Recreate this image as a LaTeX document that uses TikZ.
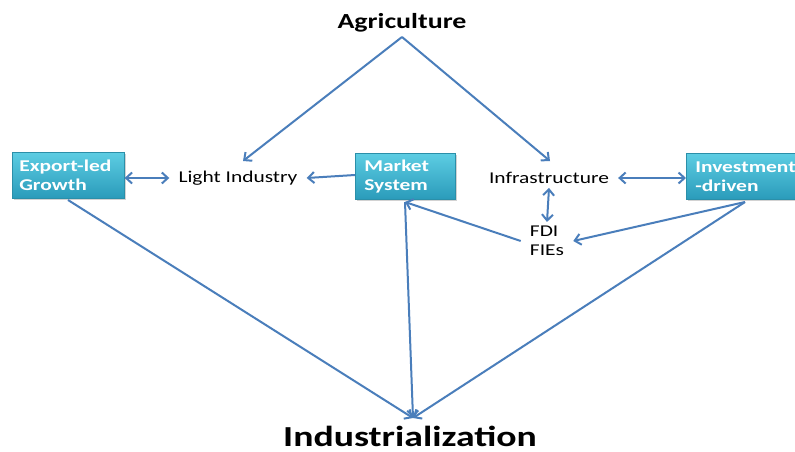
\documentclass[tikz,border=0pt]{standalone}
\usepackage{fontspec}
\setmainfont{Carlito}[FakeStretch=1.3]
\usetikzlibrary{arrows.meta,shadows}
\definecolor{linec}{HTML}{4A7EBB}
\definecolor{boxtop}{HTML}{5DCDE3}
\definecolor{boxbot}{HTML}{2A9BBA}
\definecolor{boxdraw}{HTML}{2B8FA9}
\tikzset{
  conn/.style={draw=linec, line width=2pt, -{Straight Barb[length=6pt,width=11pt,line width=2pt]}},
  dconn/.style={draw=linec, line width=2pt, {Straight Barb[length=6pt,width=11pt,line width=2pt]}-{Straight Barb[length=6pt,width=11pt,line width=2pt]}},
  cbox/.style={draw=boxdraw, line width=0.6pt, top color=boxtop, bottom color=boxbot, drop shadow={shadow xshift=1.5pt,shadow yshift=-1.5pt,opacity=0.35}, minimum height=46pt, text=white, font=\fontsize{16.5}{19}\selectfont\bfseries, align=left, inner sep=0pt, anchor=north west, text width=#1},
  lbl/.style={font=\fontsize{16.5}{19}\selectfont, text=black, inner xsep=9pt, inner ysep=4pt},
}
\begin{document}
\begin{tikzpicture}[x=1pt,y=-1pt]
\useasboundingbox (0,0) rectangle (795,452);
\fill[white] (0,0) rectangle (795,452);
\begin{scope}
\clip (0,0) rectangle (795,452);
\node[cbox=112pt, minimum width=112pt] (exp) at (12,152) {\hspace*{7pt}Export-led\\\hspace*{7pt}Growth};
\node[cbox=100pt, minimum width=100pt] (mkt) at (355,153) {\hspace*{9pt}Market\\\hspace*{9pt}System};
\node[cbox=130pt, minimum width=130pt] (inv) at (686,153) {\hspace*{9pt}Investment\\\hspace*{9pt}-driven};
\end{scope}
\node[font=\fontsize{21.5}{22}\selectfont\bfseries, anchor=base] (agr) at (402,29) {Agriculture};
\node[font=\fontsize{29}{30}\selectfont\bfseries, anchor=base, inner sep=0pt] (ind) at (410,446) {Industrialization};
\node[lbl] (li) at (238,178) {Light Industry};
\node[lbl] (inf) at (549,178) {Infrastructure};
\node[lbl, align=left] (fdi) at (547,241) {FDI\\FIEs};
\coordinate (agb) at (402,37);
\coordinate (indt) at (413,418);
\coordinate (mktb) at (405,202);
\coordinate (invb) at (745,202);
\coordinate (expb) at (68,200);
\draw[conn] (agb) -- (243,161);
\draw[conn] (agb) -- (550,161);
\draw[dconn] (exp.east |- 0,178) -- (li.west);
\draw[conn] (mkt.west |- 0,175) -- (li.east);
\draw[dconn] (inf.east) -- (inv.west |- 0,178);
\draw[dconn] (inf.south) -- (fdi.north);
\draw[conn] (fdi.west) -- (mktb);
\draw[conn] (invb) -- (fdi.east);
\draw[conn] (expb) -- (indt);
\draw[conn] (mktb) -- (indt);
\draw[conn] (invb) -- (indt);
\end{tikzpicture}
\end{document}
